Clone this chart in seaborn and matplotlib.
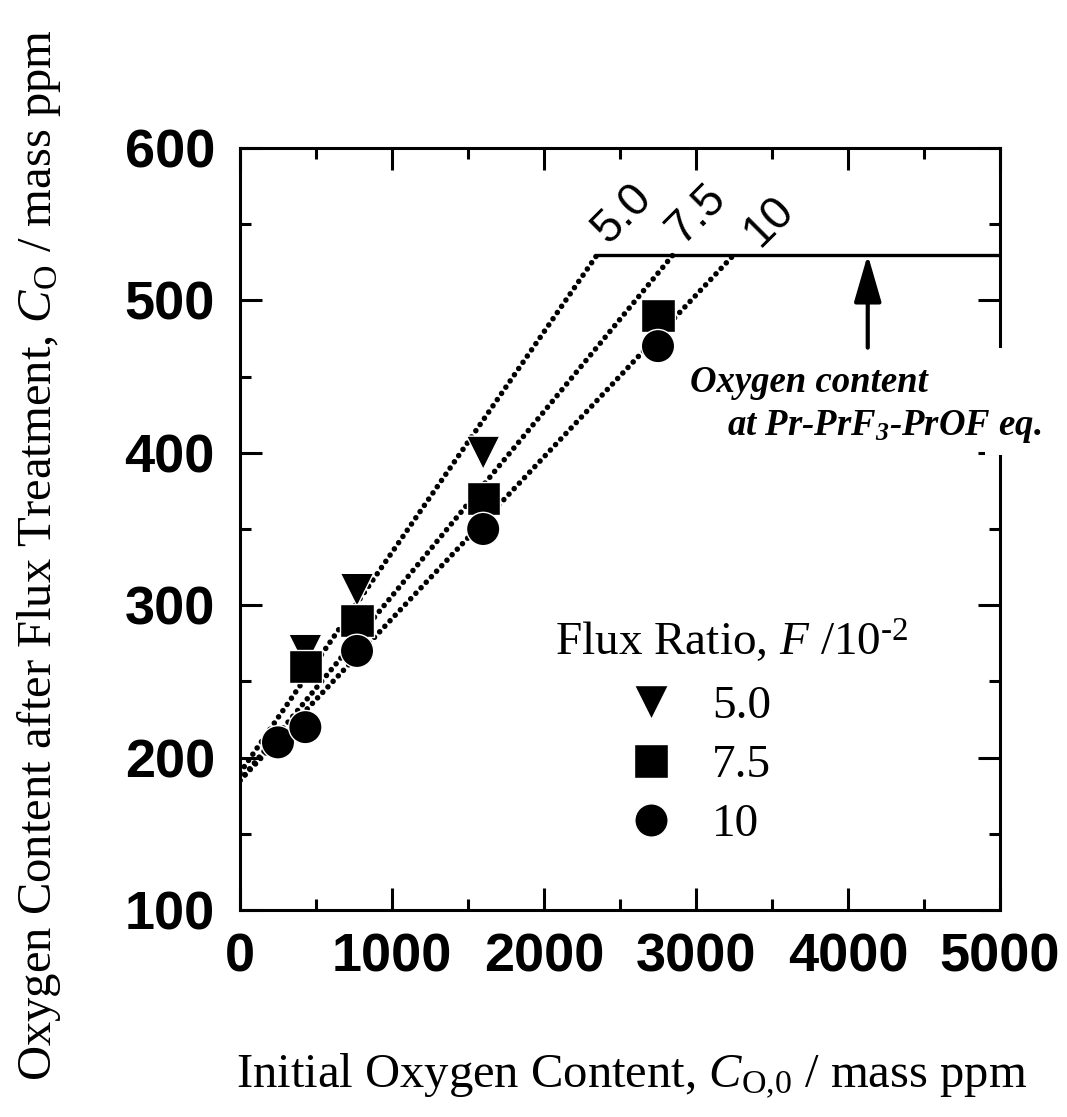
import numpy as np
import pandas as pd
import matplotlib
matplotlib.use("Agg")
import matplotlib.pyplot as plt
from matplotlib.lines import Line2D
from matplotlib.patches import Rectangle
from matplotlib.ticker import MultipleLocator
import seaborn as sns

# Measured oxygen content after flux treatment (mass ppm) for each flux ratio
flux_ratio = ["5.0", "7.5", "10"]
c0_f50 = [430, 770, 1600, 2750]
co_f50 = [270, 310, 400, 480]
c0_f75 = [430, 770, 1600, 2750]
co_f75 = [260, 290, 370, 490]
c0_f10 = [250, 430, 770, 1600, 2750]
co_f10 = [210, 220, 270, 350, 470]

# Linear trends: value at C_O,0 = 0 and where each reaches the equilibrium level
line_start = [190, 185, 185]
line_break = [2350, 2850, 3250]
eq_level = 530
arrow_x = 4130
arrow_base = 469

x_ticks = [0, 1000, 2000, 3000, 4000, 5000]
y_ticks = [100, 200, 300, 400, 500, 600]

sns.set_style("ticks")
plt.rcParams.update({
    "font.family": ["Liberation Serif", "DejaVu Serif"],
    "mathtext.fontset": "custom",
    "mathtext.rm": "Liberation Serif",
    "mathtext.it": "Liberation Serif:italic",
    "mathtext.bf": "Liberation Serif:italic:bold",
    "axes.linewidth": 2.2,
    "axes.edgecolor": "black",
    "axes.labelcolor": "black",
    "text.color": "black",
    "xtick.color": "black",
    "ytick.color": "black",
})

df = pd.concat([
    pd.DataFrame({"C0": c0_f50, "CO": co_f50, "F": flux_ratio[0]}),
    pd.DataFrame({"C0": c0_f75, "CO": co_f75, "F": flux_ratio[1]}),
    pd.DataFrame({"C0": c0_f10, "CO": co_f10, "F": flux_ratio[2]}),
], ignore_index=True)

marker_map = {"5.0": "v", "7.5": "s", "10": "o"}
msize = 24

fig = plt.figure(figsize=(10.67, 11.17), dpi=100)
ax = fig.add_axes([0.2249, 0.1853, 0.7123, 0.6822])

# dotted trend lines up to the equilibrium plateau
for start, brk in zip(line_start, line_break):
    sns.lineplot(x=[0, brk], y=[start, eq_level], ax=ax, color="black",
                 lw=4.0, linestyle=(0, (0.01, 1.35)), dash_capstyle="round",
                 zorder=1)
ax.plot([line_break[0], 5000], [eq_level, eq_level], color="black", lw=2.4, zorder=1)

sns.scatterplot(data=df, x="C0", y="CO", style="F", markers=marker_map,
                color="black", s=msize ** 2, edgecolor="white", linewidth=1.0,
                legend=False, ax=ax, zorder=3)

ax.annotate("", xy=(arrow_x, eq_level), xytext=(arrow_x, arrow_base),
            arrowprops=dict(arrowstyle="-|>,head_length=1.45,head_width=0.42",
                            mutation_scale=20, lw=3.0, color="black",
                            shrinkA=0, shrinkB=0), zorder=2)

# labels on the trend lines
for lbl, (tx, ty) in zip(flux_ratio, [(2513, 557), (3007, 557), (3480, 552)]):
    ax.text(tx, ty, lbl, rotation=45, ha="center", va="center",
            fontsize=33, family="Liberation Sans", clip_on=False)

# white patch interrupting the right frame behind the annotation
ax.add_patch(Rectangle((0.98, 0.597), 0.06, 0.1405, transform=ax.transAxes,
                       facecolor="white", edgecolor="none", zorder=2.6,
                       clip_on=False))
ax.text(2960, 440, "Oxygen content", fontsize=26.5, fontweight="bold",
        style="italic", va="baseline", ha="left", zorder=4, clip_on=False)
ax.text(3204, 412, r"at Pr-PrF$_\mathbf{3}$-PrOF eq.", fontsize=26.5,
        fontweight="bold", style="italic", va="baseline", ha="left",
        zorder=4, clip_on=False)

# legend
ax.text(2072, 267, r"Flux Ratio, $F$ /10$^{\text{-2}}$", fontsize=34,
        va="baseline", ha="left")
handles = [Line2D([], [], ls="none", marker=marker_map[f], markersize=msize,
                  color="black", markeredgecolor="white", markeredgewidth=1.0)
           for f in flux_ratio]
ax.legend(handles, flux_ratio, loc="upper left",
          bbox_to_anchor=((627 - 240) / 760, (910 - 685) / 762),
          frameon=False, fontsize=34, handlelength=1.0, handletextpad=0.8,
          labelspacing=0.34, borderpad=0, borderaxespad=0)

ax.set_xlim(0, 5000)
ax.set_ylim(100, 600)
ax.set_xticks(x_ticks)
ax.set_yticks(y_ticks)
ax.xaxis.set_minor_locator(MultipleLocator(500))
ax.yaxis.set_minor_locator(MultipleLocator(50))
ax.tick_params(which="both", direction="in", top=True, right=True, width=2.2)
ax.tick_params(which="major", length=16)
ax.tick_params(which="minor", length=8)
ax.tick_params(axis="x", which="major", pad=16)
ax.tick_params(axis="y", which="major", pad=18)
for lab in ax.get_xticklabels() + ax.get_yticklabels():
    lab.set_family("Liberation Sans")
    lab.set_fontweight("bold")
    lab.set_fontsize(39)

ax.set_xlabel(r"Initial Oxygen Content, $C_\mathrm{O{,}0}$ / mass ppm", fontsize=35)
ax.set_ylabel(r"Oxygen Content after Flux Treatment, $C_\mathrm{O}$ / mass ppm",
              fontsize=35)
ax.xaxis.set_label_coords(0.515, -0.186)
ax.yaxis.set_label_coords(-0.233, 0.466)

fig.savefig("out.png", dpi=100)
